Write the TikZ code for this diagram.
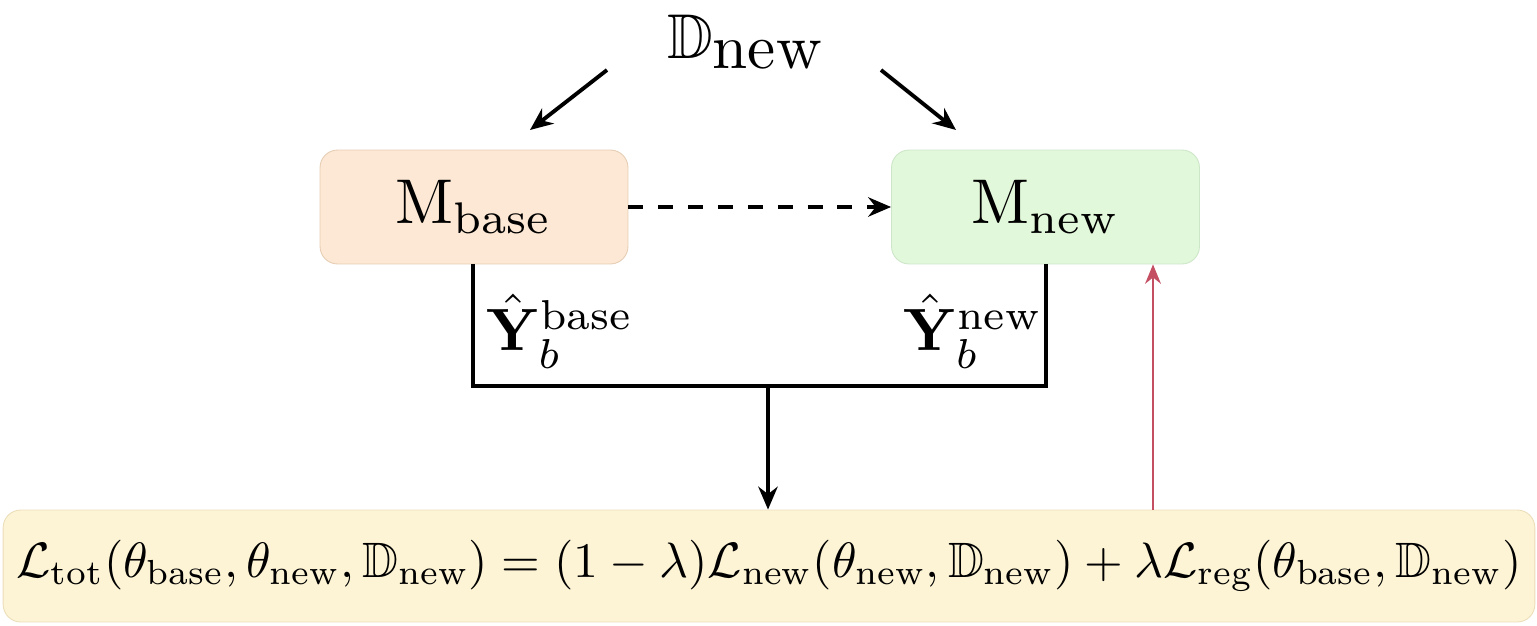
\documentclass[tikz,border=0pt]{standalone}
\usepackage{amsmath,amssymb,graphicx}
\usetikzlibrary{arrows.meta}
\definecolor{obox}{RGB}{252,232,212}
\definecolor{oline}{RGB}{230,205,180}
\definecolor{gbox}{RGB}{226,248,218}
\definecolor{gline}{RGB}{205,230,200}
\definecolor{ybox}{RGB}{253,244,214}
\definecolor{yline}{RGB}{235,222,185}
\definecolor{redarrow}{RGB}{196,78,98}
\newcommand{\myBigMath}[1]{\scalebox{3.6}{$#1$}}
\newcommand{\myLabMath}[1]{\scalebox{3.4}{$#1$}}
\newcommand{\myEqMath}[1]{\scalebox{2.83}{$#1$}}
\tikzset{
  bigtext/.style={inner sep=0pt},
  model/.style={rounded corners=10pt, minimum width=6.16cm, minimum height=2.28cm, inner sep=0pt, line width=0.5pt},
  conn/.style={line width=2.2pt, -{Stealth[length=13pt,width=11pt]}},
  wire/.style={line width=2.2pt},
}
\begin{document}
\begin{tikzpicture}[x=0.02cm,y=-0.02cm]
\useasboundingbox (0,0) rectangle (1537,625);
\node[bigtext] (D) at (746,42) {\myBigMath{\mathbb{D}_{\textstyle\text{new}}}};
\node[model, fill=obox, draw=oline] (Mb) at (474,207) {\myBigMath{\mathrm{M}_{\text{base}}}};
\node[model, fill=gbox, draw=gline] (Mn) at (1045.5,207) {\myBigMath{\mathrm{M}_{\text{new}}}};
\node[rounded corners=10pt, minimum width=30.64cm, minimum height=2.24cm, inner sep=0pt, fill=ybox, draw=yline, line width=0.5pt] (L) at (769,566)
{\myEqMath{\mathcal{L}_{\text{tot}}(\theta_{\text{base}},\theta_{\text{new}},\mathbb{D}_{\text{new}}) = (1-\lambda)\mathcal{L}_{\text{new}}(\theta_{\text{new}},\mathbb{D}_{\text{new}}) + \lambda\mathcal{L}_{\text{reg}}(\theta_{\text{base}},\mathbb{D}_{\text{new}})}};
\coordinate (a1s) at (607,70);
\coordinate (a1e) at (530,130);
\coordinate (a2s) at (881,70);
\coordinate (a2e) at (956,130);
\draw[conn] (a1s) -- (a1e);
\draw[conn] (a2s) -- (a2e);
\draw[conn, dash pattern=on 8.5pt off 8.5pt] (Mb.east) -- (Mn.west);
\coordinate (j1) at (473,386);
\coordinate (j2) at (1046,386);
\coordinate (jm) at (768,386);
\draw[wire] (Mb.south -| j1) -- (j1) -- (j2) -- (Mn.south -| j2);
\draw[conn] (jm) -- (L.north -| jm);
\coordinate (rb) at (1153,510);
\draw[line width=1.4pt, redarrow, -{Stealth[length=11pt,width=9pt]}] (L.north -| rb) -- (Mn.south -| rb);
\node[bigtext] (Yb) at (560,331) {\myLabMath{\hat{\mathbf{Y}}_b^{\text{base}}}};
\node[bigtext] (Yn) at (973,331) {\myLabMath{\hat{\mathbf{Y}}_b^{\text{new}}}};
\end{tikzpicture}
\end{document}
